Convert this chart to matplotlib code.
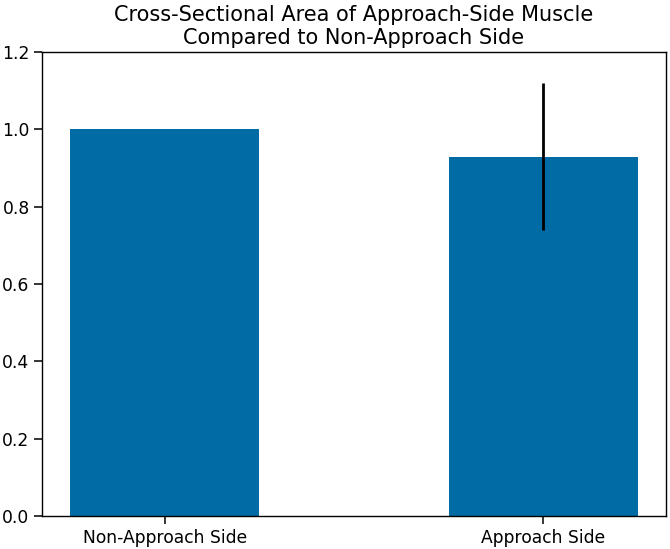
import matplotlib
matplotlib.use("Agg")
import matplotlib.pyplot as plt

# data
categories = ["Non-Approach Side", "Approach Side"]
ratios = [1.0, 0.93]
errors = [0.0, 0.19]

fig = plt.figure(figsize=(6.7, 5.49), dpi=100)
ax = fig.add_axes([0.0627, 0.060, 0.9313, 0.845])

ax.bar(categories, ratios, width=0.5, color="#006BA4")
ax.errorbar(categories[1], ratios[1], yerr=errors[1], color="black",
            linewidth=2, capsize=0, fmt="none")

ax.set_ylim(0, 1.2)
ax.tick_params(labelsize=12.3, length=5.5, width=1.1)
for s in ax.spines.values():
    s.set_linewidth(1.0)
ax.set_title("Cross-Sectional Area of Approach-Side Muscle\nCompared to Non-Approach Side",
             fontsize=15, pad=6)

fig.savefig("out.png", dpi=100)
plt.close(fig)
